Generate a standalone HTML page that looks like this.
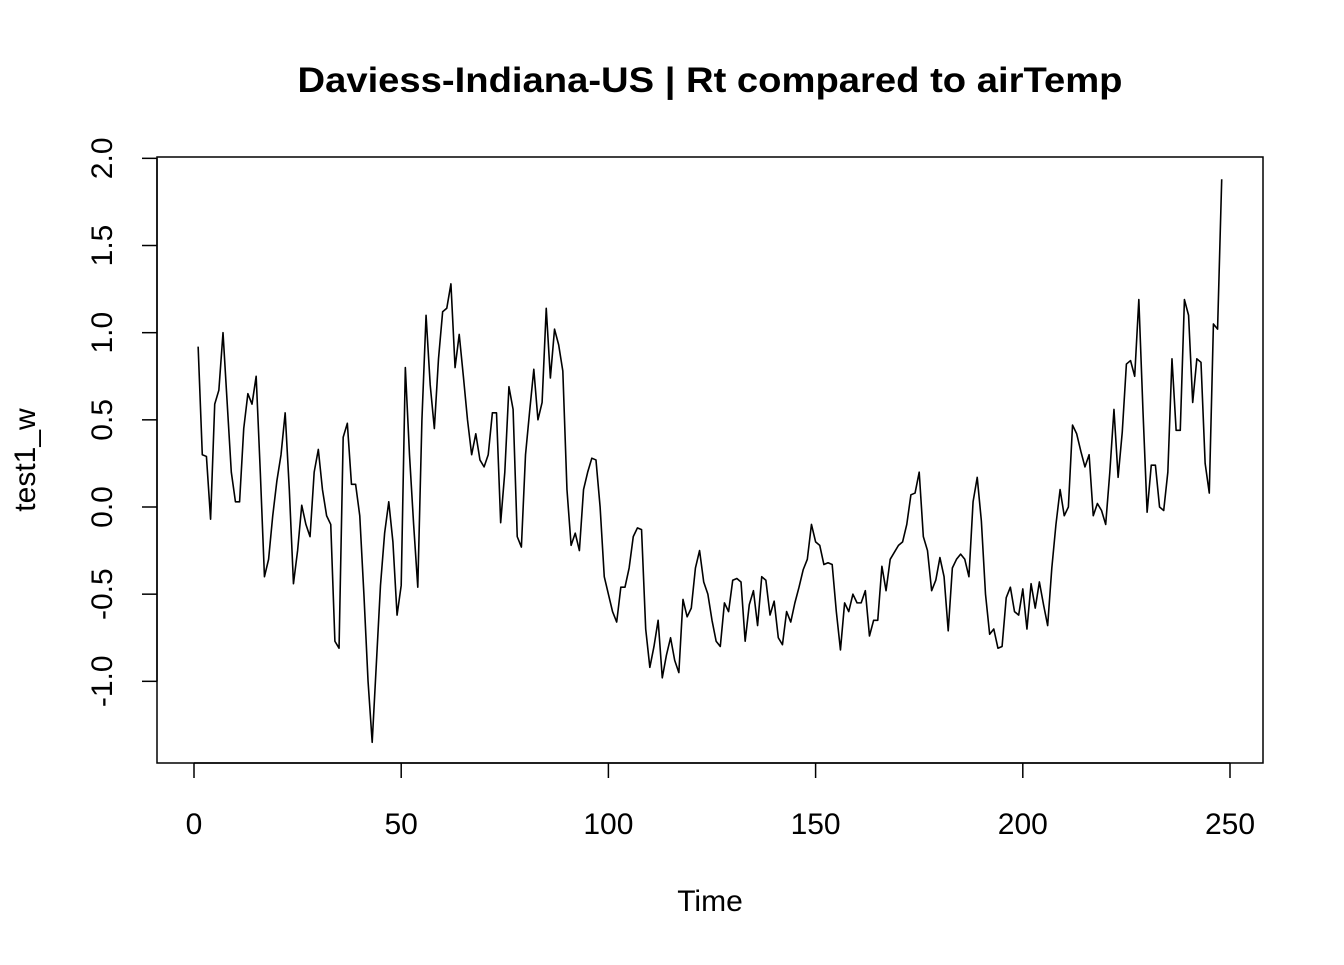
<!DOCTYPE html>
<html><head><meta charset="utf-8"><style>
body{margin:0;background:#fff;}
svg text{font-family:"Liberation Sans",Arial,sans-serif;fill:#000;}
</style></head><body>
<svg id="chart" width="1344" height="960" xmlns="http://www.w3.org/2000/svg">
<rect width="1344" height="960" fill="#fff"/>
<text x="710" y="92" font-size="35" font-weight="bold" text-anchor="middle" textLength="825" lengthAdjust="spacingAndGlyphs">Daviess-Indiana-US | Rt compared to airTemp</text>
<rect x="157" y="157" width="1106" height="606" fill="none" stroke="#000" stroke-width="1.5"/>
<text x="710" y="911" font-size="30" text-anchor="middle">Time</text>
<text transform="translate(35,460) rotate(-90)" font-size="30" text-anchor="middle">test1_w</text>
<g id="xaxis"></g>
<g id="yaxis"></g>
<path id="series" fill="none" stroke="#000" stroke-width="1.6" stroke-linejoin="round"/>
</svg>
<script>
const xTicks = [0, 50, 100, 150, 200, 250];
const yTicks = [-1.0, -0.5, 0.0, 0.5, 1.0, 1.5, 2.0];
const yTickLabels = ["-1.0", "-0.5", "0.0", "0.5", "1.0", "1.5", "2.0"];
const values = [
0.92,0.30,0.29,-0.07,0.59,0.67,1.00,0.60,0.20,0.03,
0.03,0.45,0.65,0.59,0.75,0.20,-0.40,-0.30,-0.05,0.15,
0.30,0.54,0.10,-0.44,-0.25,0.01,-0.10,-0.17,0.20,0.33,
0.10,-0.05,-0.10,-0.77,-0.81,0.40,0.48,0.13,0.13,-0.05,
-0.50,-1.00,-1.35,-0.90,-0.45,-0.15,0.03,-0.20,-0.62,-0.45,
0.80,0.30,-0.10,-0.46,0.50,1.10,0.70,0.45,0.85,1.12,
1.14,1.28,0.80,0.99,0.75,0.50,0.30,0.42,0.27,0.23,
0.30,0.54,0.54,-0.09,0.20,0.69,0.56,-0.17,-0.23,0.30,
0.55,0.79,0.50,0.60,1.14,0.74,1.02,0.93,0.78,0.10,
-0.22,-0.15,-0.25,0.10,0.20,0.28,0.27,0.00,-0.40,-0.50,
-0.60,-0.66,-0.46,-0.46,-0.35,-0.17,-0.12,-0.13,-0.70,-0.92,
-0.80,-0.65,-0.98,-0.85,-0.75,-0.88,-0.95,-0.53,-0.63,-0.58,
-0.35,-0.25,-0.43,-0.50,-0.65,-0.77,-0.80,-0.55,-0.60,-0.42,
-0.41,-0.43,-0.77,-0.56,-0.48,-0.68,-0.40,-0.42,-0.62,-0.54,
-0.75,-0.79,-0.60,-0.66,-0.55,-0.46,-0.36,-0.30,-0.10,-0.20,
-0.22,-0.33,-0.32,-0.33,-0.60,-0.82,-0.55,-0.60,-0.50,-0.55,
-0.55,-0.48,-0.74,-0.65,-0.65,-0.34,-0.48,-0.30,-0.26,-0.22,
-0.20,-0.10,0.07,0.08,0.20,-0.17,-0.25,-0.48,-0.42,-0.29,
-0.40,-0.71,-0.35,-0.30,-0.27,-0.30,-0.40,0.03,0.17,-0.08,
-0.50,-0.73,-0.70,-0.81,-0.80,-0.52,-0.46,-0.60,-0.62,-0.47,
-0.70,-0.44,-0.58,-0.43,-0.56,-0.68,-0.35,-0.10,0.10,-0.05,
0.00,0.47,0.42,0.32,0.23,0.30,-0.05,0.02,-0.02,-0.10,
0.20,0.56,0.17,0.43,0.82,0.84,0.75,1.19,0.55,-0.03,
0.24,0.24,0.00,-0.02,0.20,0.85,0.44,0.44,1.19,1.10,
0.60,0.85,0.83,0.25,0.08,1.05,1.02,1.88
];
const NS="http://www.w3.org/2000/svg";
const xs = t => 194 + t*(1230-194)/250;
const ys = v => 507 - v*174.33;
const xg=document.getElementById('xaxis'), yg=document.getElementById('yaxis');
function mk(tag,attrs,parent){const e=document.createElementNS(NS,tag);for(const k in attrs)e.setAttribute(k,attrs[k]);parent.appendChild(e);return e;}
mk('line',{x1:xs(xTicks[0]),x2:xs(xTicks[xTicks.length-1]),y1:763,y2:763,stroke:'#000','stroke-width':1.5},xg);
xTicks.forEach(t=>{
  const l=mk('line',{x1:xs(t),x2:xs(t),y1:763,y2:778,stroke:'#000','stroke-width':1.5},xg);
  
  
  const tx=mk('text',{x:xs(t),y:834,'font-size':30,'text-anchor':'middle'},xg);
  tx.textContent=t;
  
  
});
mk('line',{x1:157,x2:157,y1:ys(yTicks[0]),y2:ys(yTicks[yTicks.length-1]),stroke:'#000','stroke-width':1.5},yg);
yTicks.forEach((v,i)=>{
  const l=mk('line',{x1:142,x2:157,y1:ys(v),y2:ys(v),stroke:'#000','stroke-width':1.5},yg);
  
  
  const tx=mk('text',{transform:`translate(112,${ys(v)}) rotate(-90)`,'font-size':30,'text-anchor':'middle'},yg);
  tx.textContent=yTickLabels[i];
  
  
});
document.getElementById('series').setAttribute('d',values.map((v,i)=>(i?'L':'M')+xs(i+1).toFixed(2)+','+ys(v).toFixed(2)).join(''));
</script>
</body></html>
